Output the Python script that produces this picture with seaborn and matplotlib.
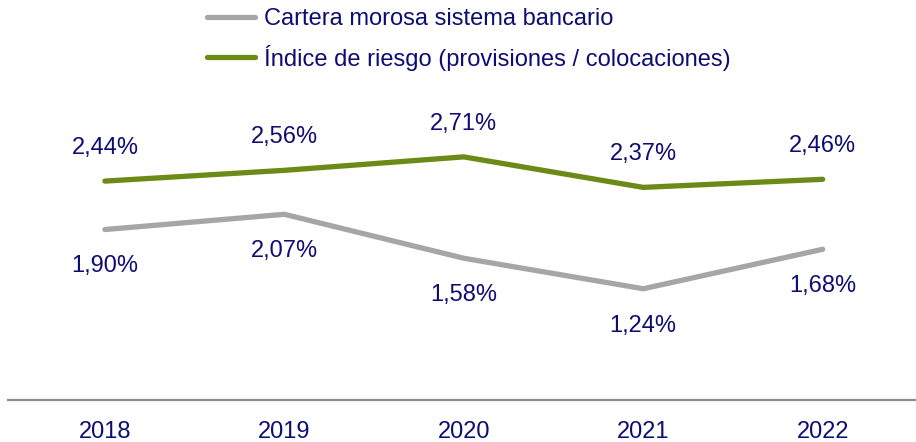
import matplotlib
matplotlib.use("Agg")
import matplotlib.pyplot as plt
import seaborn as sns
import pandas as pd
from matplotlib.lines import Line2D

years = [2018, 2019, 2020, 2021, 2022]
morosa = [1.90, 2.07, 1.58, 1.24, 1.68]
riesgo = [2.44, 2.56, 2.71, 2.37, 2.46]
series_names = ["Cartera morosa sistema bancario",
                "Índice de riesgo (provisiones / colocaciones)"]

df = pd.DataFrame({
    "year": years * 2,
    "value": morosa + riesgo,
    "serie": [series_names[0]] * len(years) + [series_names[1]] * len(years),
})

sns.set_theme(style="white")
plt.rcParams["font.family"] = ["Liberation Sans", "DejaVu Sans"]

navy = "#0D0D73"
gray = "#A6A6A6"
green = "#6B8A17"
fs = 17

fig = plt.figure(figsize=(9.16, 4.42), dpi=100)
ax = fig.add_axes([8 / 916, 42 / 442, 1 - 8 / 916, (400 - 86) / 442])

sns.lineplot(data=df, x="year", y="value", hue="serie",
             palette={series_names[0]: gray, series_names[1]: green},
             linewidth=3.8, ax=ax, legend=False)
for l in ax.lines:
    l.set_solid_capstyle("round")

for x, v in zip(years, morosa):
    ax.annotate(f"{v:.2f}%".replace(".", ","), (x, v), xytext=(0, -26.5),
                textcoords="offset points", ha="center", va="center",
                color=navy, fontsize=fs)
for x, v in zip(years, riesgo):
    ax.annotate(f"{v:.2f}%".replace(".", ","), (x, v), xytext=(0, 24),
                textcoords="offset points", ha="center", va="center",
                color=navy, fontsize=fs)

ax.set_xlim(years[0] - 0.54, years[-1] + 0.52)
ax.set_ylim(0, 3.5)
ax.set_xticks(years)
ax.set_xticklabels([str(y) for y in years], color=navy, fontsize=fs)
ax.tick_params(axis="x", length=0, pad=15)
ax.set_yticks([])
ax.set_xlabel("")
ax.set_ylabel("")
for s in ["top", "right", "left"]:
    ax.spines[s].set_visible(False)
ax.spines["bottom"].set_color("#8C8C8C")
ax.spines["bottom"].set_linewidth(1.6)

handles = [Line2D([], [], color=gray, lw=3.8, solid_capstyle="round"),
           Line2D([], [], color=green, lw=3.8, solid_capstyle="round")]
leg = fig.legend(handles, series_names, loc="upper left",
                 bbox_to_anchor=(205 / 916, 1.0 - 6 / 442), frameon=False,
                 fontsize=fs, handlelength=2.0, handletextpad=0.4,
                 labelspacing=0.6, borderaxespad=0, borderpad=0.1)
for t in leg.get_texts():
    t.set_color(navy)

fig.savefig("out.png", dpi=100)
